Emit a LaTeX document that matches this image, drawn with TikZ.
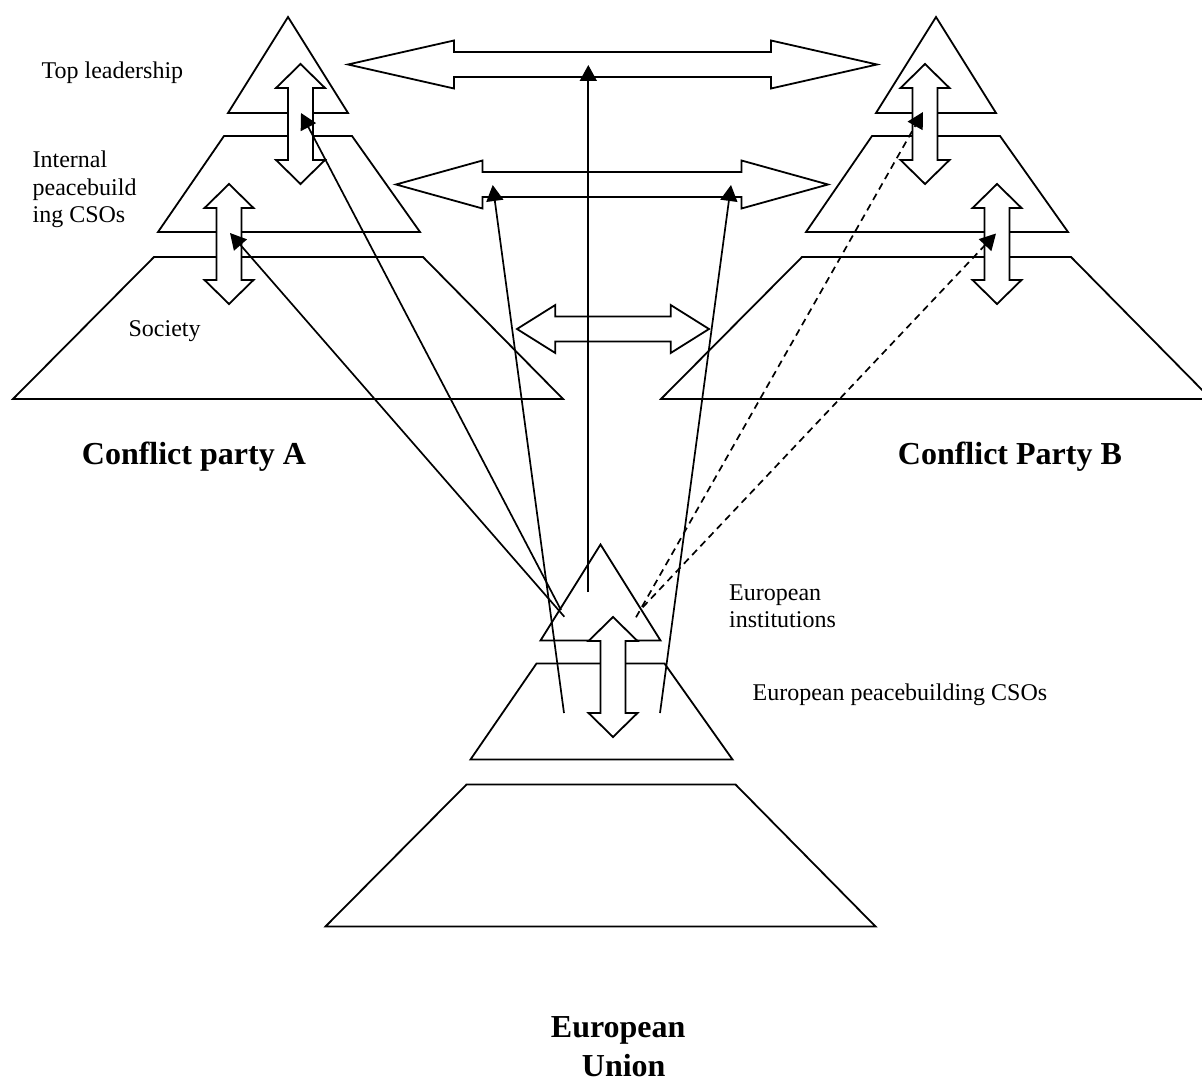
\documentclass[tikz,border=0pt]{standalone}
\usepackage{fontspec}
\setmainfont{Liberation Serif}
\usetikzlibrary{arrows.meta}

\begin{document}
\begin{tikzpicture}[x=0.5pt,y=-0.5pt,line width=0.9pt,
  lbl/.style={inner sep=0pt,anchor=base west,font=\fontsize{12}{14}\selectfont},
  party/.style={inner sep=0pt,anchor=base west,font=\fontsize{16}{18}\selectfont\bfseries},
  blockarrow/.style={draw,fill=white},
  link/.style={-{Triangle[length=8pt,width=8.5pt]},line width=0.85pt},
  dlink/.style={link,dash pattern=on 3.5pt off 2.5pt}]
  \useasboundingbox (0,0) rectangle (1202,1080);
  % Three pyramids: party A, party B, European Union
  \foreach \dx/\dy in {0/0,648/0,312.5/527.5} {
    \begin{scope}[shift={(\dx,\dy)}]
      \draw (288,17) -- (348,113) -- (228,113) -- cycle;
      \draw (224,136) -- (352,136) -- (420,232) -- (158,232) -- cycle;
      \draw (154,257) -- (423,257) -- (563,399) -- (13,399) -- cycle;
    \end{scope}
  }
  % Vertical double block arrows inside the pyramids
  \foreach \cx/\ya/\yb in {300.5/64/184,229/184/304,925/64/184,997/184/304,613/617/737} {
    \draw[blockarrow] (\cx,\ya) -- (\cx+24.5,\ya+24) -- (\cx+12.5,\ya+24)
      -- (\cx+12.5,\yb-24) -- (\cx+24.5,\yb-24) -- (\cx,\yb) -- (\cx-24.5,\yb-24)
      -- (\cx-12.5,\yb-24) -- (\cx-12.5,\ya+24) -- (\cx-24.5,\ya+24) -- cycle;
  }
  % Horizontal double block arrows between the parties
  \foreach \cy/\xa/\xb/\hl in {64.5/348/877/106,184.5/396/828/86.5,329/517/709/38.3} {
    \draw[blockarrow] (\xa,\cy) -- (\xa+\hl,\cy-24) -- (\xa+\hl,\cy-12.5)
      -- (\xb-\hl,\cy-12.5) -- (\xb-\hl,\cy-24) -- (\xb,\cy) -- (\xb-\hl,\cy+24)
      -- (\xb-\hl,\cy+12.5) -- (\xa+\hl,\cy+12.5) -- (\xa+\hl,\cy+24) -- cycle;
  }
  % Link end points
  \coordinate (euMid) at (588.3,592);
  \coordinate (topMid) at (588.3,65);
  \coordinate (csoL) at (564,713);
  \coordinate (csoR) at (660,713);
  \coordinate (midL) at (492.7,185);
  \coordinate (midR) at (731,185);
  \coordinate (instA1) at (561,610);
  \coordinate (instA2) at (564.3,616.7);
  \coordinate (instB1) at (636,617.3);
  \coordinate (instB2) at (642.7,607.3);
  \coordinate (topA) at (301,113);
  \coordinate (csoA) at (230,233);
  \coordinate (topB) at (923,112);
  \coordinate (csoB) at (996,233.5);
  % Links from the EU
  \draw[link] (euMid) -- (topMid);
  \draw[link] (csoL) -- (midL);
  \draw[link] (csoR) -- (midR);
  \draw[link] (instA1) -- (topA);
  \draw[link] (instA2) -- (csoA);
  \draw[dlink] (instB1) -- (topB);
  \draw[dlink] (instB2) -- (csoB);
  % Labels
  \node[lbl] (topLbl) at (40.7,79) {Top leadership};
  \node[lbl] (intLbl1) at (31.7,167.7) {Internal};
  \node[lbl] (intLbl2) at (31.7,195.2) {peacebuild};
  \node[lbl] (intLbl3) at (31.7,222.7) {ing CSOs};
  \node[lbl] (socLbl) at (127.7,336.7) {Society};
  \node[party] (partyA) at (81,464.3) {Conflict party A};
  \node[party] (partyB) at (897,464.3) {Conflict Party B};
  \node[lbl] (instLbl1) at (728.3,600) {European};
  \node[lbl] (instLbl2) at (728.3,627.7) {institutions};
  \node[lbl] (csoLbl) at (751.7,700) {European peacebuilding CSOs};
  \node[party] (euLbl1) at (550,1037.7) {European};
  \node[party] (euLbl2) at (581,1076) {Union};
\end{tikzpicture}
\end{document}
